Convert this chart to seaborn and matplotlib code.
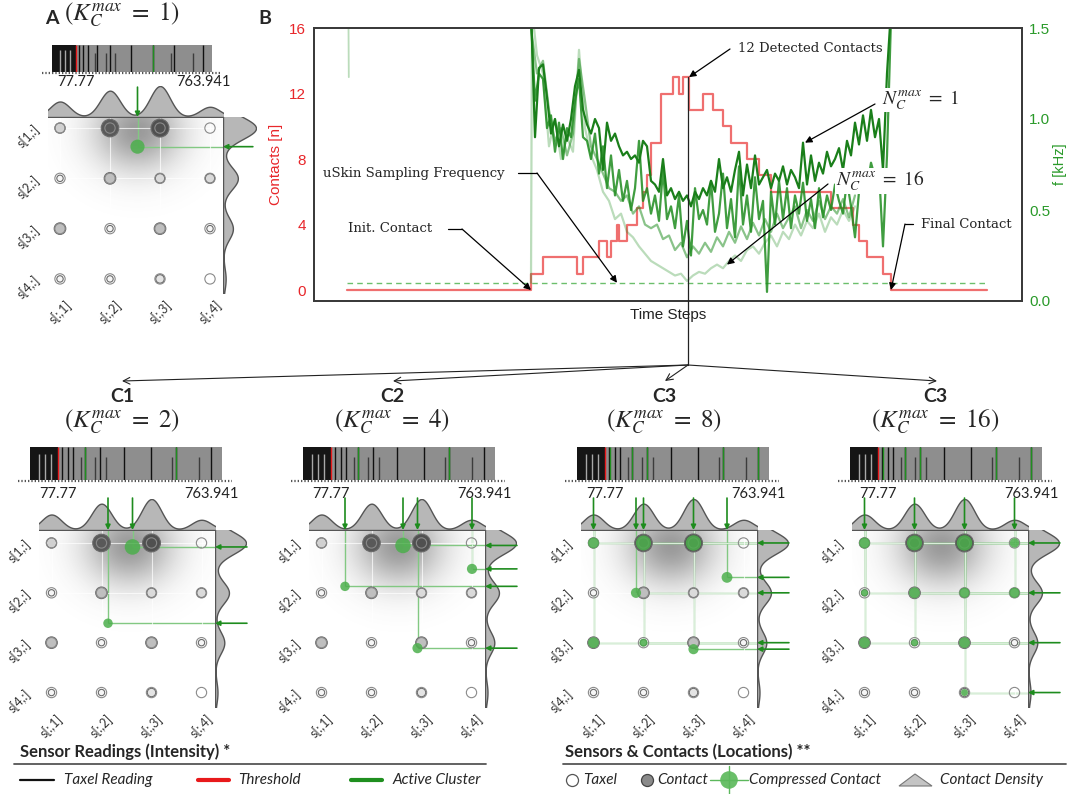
import numpy as np
import pandas as pd
import matplotlib
matplotlib.use("Agg")
import matplotlib.pyplot as plt
import seaborn as sns
from matplotlib.patches import Rectangle, Polygon

# ====================== DATA ======================
# Panel B: number of detected contacts (step changes over time steps)
contact_t = [0, 92, 98, 115, 118, 126, 130, 132, 135, 136, 140, 145, 148, 150, 152, 157, 163,
             166, 168, 171, 178, 183, 188, 192, 200, 206, 212, 242, 253, 256, 260, 268, 272, 320]
contact_n = [0, 1, 2, 1, 2, 3, 2, 3, 4, 3, 4, 5, 6, 7, 9, 12, 13,
             12, 13, 11, 12, 11, 10, 9, 8, 7, 6, 5, 4, 3, 2, 1, 0, 0]

# Panel B: processing frequency [kHz] for several N_C^max settings
freq_t_k1 = list(range(92, 273, 2))
freq_k1 = [1.60, 0.90, 1.28, 1.30, 1.12, 0.92, 1.00, 0.85, 0.97, 0.88,
           1.00, 1.18, 1.27, 1.05, 0.97, 0.92, 1.00, 0.95, 0.72, 0.98,
           0.88, 0.92, 0.85, 0.80, 0.82, 0.78, 0.80, 0.76, 0.88, 0.85,
           0.66, 0.64, 0.60, 0.78, 0.58, 0.62, 0.56, 0.60, 0.55, 0.58,
           0.52, 0.60, 0.56, 0.62, 0.58, 0.66, 0.60, 0.78, 0.62, 0.68,
           0.60, 0.72, 0.82, 0.58, 0.75, 0.62, 0.80, 0.64, 0.68, 0.72,
           0.62, 0.70, 0.66, 0.74, 0.64, 0.72, 0.68, 0.62, 0.87, 0.64,
           0.80, 0.66, 0.76, 0.70, 0.82, 0.74, 0.78, 0.84, 0.72, 0.88,
           0.80, 0.98, 0.86, 1.02, 0.88, 1.05, 0.90, 1.00, 0.72, 1.25,
           1.60]
freq_t_k4 = list(range(92, 273, 2))
freq_k4 = [1.55, 1.10, 1.25, 1.22, 0.95, 1.02, 0.82, 0.98, 0.78, 0.95,
           0.90, 1.10, 1.22, 0.90, 0.88, 0.78, 0.92, 0.70, 0.85, 0.62,
           0.80, 0.58, 0.72, 0.55, 0.66, 0.50, 0.62, 0.88, 0.55, 0.62,
           0.48, 0.58, 0.44, 0.72, 0.45, 0.52, 0.40, 0.58, 0.30, 0.44,
           0.25, 0.62, 0.45, 0.50, 0.42, 0.66, 0.38, 0.48, 0.70, 0.40,
           0.56, 0.35, 0.74, 0.42, 0.58, 0.38, 0.68, 0.45, 0.55, 0.05,
           0.60, 0.42, 0.66, 0.45, 0.62, 0.40, 0.58, 0.48, 0.65, 0.44,
           0.56, 0.40, 0.62, 0.46, 0.58, 0.50, 0.64, 0.55, 0.48, 0.66,
           0.52, 0.35, 0.60, 0.70, 0.62, 0.76, 0.68, 0.72, 0.30, 0.80,
           1.55]
freq_t_k8 = list(range(92, 255, 3))
freq_k8 = [1.50, 1.25, 1.32, 1.05, 0.88, 0.95, 0.80, 0.92, 1.33, 1.10,
           0.85, 0.78, 0.70, 0.62, 0.60, 0.55, 0.58, 0.48, 0.52, 0.42,
           0.40, 0.42, 0.34, 0.36, 0.28, 0.32, 0.24, 0.30, 0.26, 0.32,
           0.27, 0.35, 0.30, 0.38, 0.32, 0.41, 0.34, 0.43, 0.36, 0.45,
           0.38, 0.48, 0.40, 0.46, 0.52, 0.40, 0.50, 0.44, 0.55, 0.45,
           0.52, 0.48, 0.56, 0.46, 0.58]
freq_t_k16 = [92, 92.5] + list(range(95, 255, 3))
freq_k16 = [0.10, 1.60, 1.35, 1.25, 0.85, 1.00, 0.78, 0.90, 0.82, 1.38,
            0.95, 0.80, 0.72, 0.60, 0.55, 0.45, 0.48, 0.38, 0.35, 0.30,
            0.26, 0.22, 0.20, 0.18, 0.16, 0.14, 0.15, 0.11, 0.14, 0.16,
            0.15, 0.18, 0.20, 0.18, 0.22, 0.25, 0.22, 0.28, 0.30, 0.26,
            0.32, 0.36, 0.30, 0.38, 0.34, 0.42, 0.36, 0.44, 0.40, 0.48,
            0.38, 0.46, 0.42, 0.50, 0.44, 0.52]
freq_t_pre = [0.7, 0.9]
freq_pre = [1.60, 1.23]
sampling_t = [0, 320]
sampling_freq = [0.1, 0.1]

# Taxel grid (4x4) readings, shared by all panels
taxel_intensity = [[0.25, 0.90, 0.95, 0.00],
                   [0.05, 0.35, 0.20, 0.20],
                   [0.35, 0.05, 0.35, 0.05],
                   [0.05, 0.05, 0.15, 0.00]]
col_labels = ['s[:,1]', 's[:,2]', 's[:,3]', 's[:,4]']
row_labels = ['s[1,:]', 's[2,:]', 's[3,:]', 's[4,:]']
col_density = [0.50, 0.85, 1.00, 0.33]
row_density = [1.00, 0.45, 0.30, 0.08]

# Sensor reading strip
threshold = 77.77
max_reading = 763.941
readings_full = [95, 119, 143, 195, 265, 373, 492, 607, 763.941]
readings_partial = [180, 241, 290, 589, 707]
readings_below = [-9, 18, 45]

# Panels: titles, K_C^max, active clusters, compressed contacts
panel_titles = ['A', 'C1', 'C2', 'C3', 'C3']
panel_kmax = [1, 2, 4, 8, 16]
active_A = [492]
active_C1 = [195, 607]
active_C2 = [195, 607]
active_C3 = [97, 195, 265, 607, 763.941]
active_C4 = [97, 195, 265, 607, 763.941]
contact_col_A = [2.55]
contact_row_A = [1.37]
contact_w_A = [0.85]
contact_col_C1 = [2.62, 2.13]
contact_row_C1 = [1.08, 2.61]
contact_w_C1 = [1.00, 0.45]
contact_col_C2 = [2.63, 4.01, 1.47, 2.92]
contact_row_C2 = [1.05, 1.52, 1.87, 3.11]
contact_w_C2 = [1.00, 0.50, 0.45, 0.50]
contact_col_C3 = [1, 2, 3, 3.67, 1.85, 1, 2, 3]
contact_row_C3 = [1, 1, 1, 1.69, 2, 3, 3, 3.13]
contact_w_C3 = [0.55, 0.95, 1.00, 0.55, 0.50, 0.55, 0.35, 0.50]
contact_col_C4 = [1, 2, 3, 4, 1, 2, 3, 4, 1, 2, 3, 3]
contact_row_C4 = [1, 1, 1, 1, 2, 2, 2, 2, 3, 3, 3, 4]
contact_w_C4 = [0.55, 0.95, 1.00, 0.45, 0.30, 0.55, 0.50, 0.50, 0.55, 0.30, 0.55, 0.30]

# ====================== STYLE ======================
sns.set_theme(style="white")
plt.rcParams['font.family'] = ['Lato', 'DejaVu Sans']
plt.rcParams['mathtext.fontset'] = 'stix'
plt.rcParams['axes.unicode_minus'] = False

W, H = 1069, 794
fig = plt.figure(figsize=(W / 100, H / 100), dpi=100)
fig.patch.set_facecolor('white')

RED = '#ef6f6f'
GREEN = '#1e8c1e'
GLINE = '#82c882'
GDOT = '#4caf4c'
SERIF = ['DejaVu Serif']


def px_axes(x0, y0, x1, y1, **kw):
    return fig.add_axes([x0 / W, 1 - y1 / H, (x1 - x0) / W, (y1 - y0) / H], **kw)


# ====================== PANEL B ======================
axB = px_axes(314, 28, 1022, 301)
sns.lineplot(x=contact_t, y=contact_n, drawstyle='steps-post', color=RED, lw=1.6,
             ax=axB, estimator=None, legend=False)
axB.set_xlim(-16.5, 337.5)
axB.set_ylim(-0.67, 16)
axB.set_yticks([0, 4, 8, 12, 16])
axB.set_xticks([])
axB.tick_params(axis='y', length=0, labelsize=11, labelcolor='#e8262a', pad=6)
for lab in axB.get_yticklabels():
    lab.set_family('Liberation Sans')
axB.set_ylabel('Contacts [n]', color='#e8262a', fontsize=11, family='Liberation Sans', labelpad=4)
axB.set_xlabel('Time Steps', fontsize=11, family='Liberation Sans', labelpad=5, color='#222')

axF = axB.twinx()
sns.lineplot(x=sampling_t, y=sampling_freq, color='#6cbf6c', lw=1.0, linestyle=(0, (4, 3)),
             ax=axF, estimator=None, legend=False)
sns.lineplot(x=freq_t_pre, y=freq_pre, color=GREEN, alpha=0.3, lw=1.3, ax=axF, estimator=None, legend=False)
sns.lineplot(x=freq_t_k16, y=freq_k16, color=GREEN, alpha=0.3, lw=1.6, ax=axF, estimator=None, legend=False)
sns.lineplot(x=freq_t_k8, y=freq_k8, color=GREEN, alpha=0.52, lw=1.6, ax=axF, estimator=None, legend=False)
sns.lineplot(x=freq_t_k4, y=freq_k4, color=GREEN, alpha=0.85, lw=1.6, ax=axF, estimator=None, legend=False)
sns.lineplot(x=freq_t_k1, y=freq_k1, color='#1a7f1a', alpha=1.0, lw=1.6, ax=axF, estimator=None, legend=False)
axF.set_ylim(0, 1.5)
axF.set_xlim(-16.5, 337.5)
axF.set_yticks([0, 0.5, 1.0, 1.5], ['0.0', '0.5', '1.0', '1.5'])
axF.tick_params(axis='y', length=0, labelsize=11, labelcolor='#2a9a2a', pad=5)
for lab in axF.get_yticklabels():
    lab.set_family('Liberation Sans')
axF.set_ylabel('f [kHz]', color='#2a9a2a', fontsize=10.5, family='Liberation Sans', labelpad=2)
for ax in (axB, axF):
    for s in ax.spines.values():
        s.set_color('#3a3a3a')
        s.set_linewidth(1.3)
        s.set_visible(True)

# ====================== GRID PANELS ======================
grey_cmap = sns.blend_palette(['#ffffff', '#474747'], as_cmap=True)
tdf = pd.DataFrame([(c + 1, r + 1, taxel_intensity[r][c]) for r in range(4) for c in range(4)],
                   columns=['col', 'row', 'I'])

base_A = dict(strip=(52, 45, 212, 72), top=(48, 86, 223, 117), grid=(48, 117, 223, 293),
              right=(223, 117, 256, 293), xlim=(0.76, 4.26), ylim=(4.28, 0.78), arr=21.5, lpad=2)
base_C = dict(strip=(30, 447, 222, 480), top=(39, 499, 215, 530), grid=(39, 530, 215, 707),
              right=(215, 530, 246, 707), xlim=(0.75, 4.27), ylim=(4.29, 0.74), arr=23, lpad=5)

panels = [
    (base_A, 0, 0, active_A, contact_col_A, contact_row_A, contact_w_A),
    (base_C, 0, 0, active_C1, contact_col_C1, contact_row_C1, contact_w_C1),
    (base_C, 270, 273, active_C2, contact_col_C2, contact_row_C2, contact_w_C2),
    (base_C, 542, 547, active_C3, contact_col_C3, contact_row_C3, contact_w_C3),
    (base_C, 813, 820, active_C4, contact_col_C4, contact_row_C4, contact_w_C4),
]

grid_axes = []
for spec, dx, sdx, greens, ccol, crow, cw in panels:
    # --- reading strip ---
    x0, y0, x1, y1 = spec['strip']
    axs = px_axes(x0 + sdx, y0, x1 + sdx, y1)
    axs.add_patch(Rectangle((-50, 0), threshold + 50, 1, facecolor='#151515', lw=0, zorder=0.5))
    axs.add_patch(Rectangle((threshold, 0), 812 - threshold, 1, facecolor='#8e8e8e', lw=0, zorder=0.5))
    sns.rugplot(x=readings_below, height=0.8, color='#a8a8a8', lw=1.2, ax=axs)
    sns.rugplot(x=readings_partial, height=0.7, color='#3c3c3c', lw=1.0, ax=axs)
    sns.rugplot(x=readings_full, height=1.0, color='#101010', lw=1.4, ax=axs)
    sns.rugplot(x=greens, height=1.0, color='#1f8f1f', lw=1.6, ax=axs)
    sns.rugplot(x=[threshold], height=1.0, color='#e8191b', lw=1.6, ax=axs)
    axs.set_xlim(-50, 812)
    axs.set_ylim(0, 1)
    axs.set_yticks([])
    axs.set_xticks([threshold, max_reading], ['77.77', '763.941'])
    axs.tick_params(axis='x', length=0, labelsize=10.5, pad=spec['lpad'], labelcolor='#222')
    for s in axs.spines.values():
        s.set_visible(False)
    axs.plot([-0.06, 1.05], [-0.04, -0.04], transform=axs.transAxes, color='#555',
             lw=1.6, ls=(0, (0.6, 0.9)), clip_on=False)

    # --- grid ---
    gx0, gy0, gx1, gy1 = spec['grid']
    xlim, ylim = spec['xlim'], spec['ylim']
    axg = px_axes(gx0 + dx, gy0, gx1 + dx, gy1)
    axg.patch.set_alpha(0)
    xs = np.linspace(xlim[0], xlim[1], 240)
    ys = np.linspace(ylim[1], ylim[0], 240)
    X, Y = np.meshgrid(xs, ys)
    img = np.zeros((240, 240, 4))
    img[..., :3] = 0.32
    img[..., 3] = 0.58 * np.exp(-(((X - 2.55) / 0.62) ** 2 + ((Y - 1.05) / 0.55) ** 2) / 2)
    axg.imshow(img, extent=(xlim[0], xlim[1], ylim[0], ylim[1]), origin='upper',
               aspect='auto', zorder=0, interpolation='bilinear')
    axg.set_axisbelow(False)
    axg.grid(True, color='white', lw=0.8, alpha=0.7, zorder=1)

    # green guide lines
    for c, r in zip(ccol, crow):
        axg.plot([c, c], [r, ylim[1]], color=GLINE, lw=1.0, zorder=2.5, solid_capstyle='butt')
        axg.plot([c, xlim[1]], [r, r], color=GLINE, lw=1.0, zorder=2.5, solid_capstyle='butt')

    sns.scatterplot(data=tdf[tdf.I > 0], x='col', y='row', hue='I', size='I', palette=grey_cmap,
                    hue_norm=(0, 1), sizes=(13, 175), size_norm=(0, 1), edgecolor='#6a6a6a',
                    linewidth=0.8, legend=False, ax=axg, zorder=3)
    sns.scatterplot(data=tdf, x='col', y='row', s=55, facecolor='none', edgecolor='#8a8a8a',
                    linewidth=0.8, legend=False, ax=axg, zorder=4)
    sns.scatterplot(x=ccol, y=crow, size=cw, sizes=(25, 125), size_norm=(0.3, 1.0), color=GDOT,
                    alpha=0.85, edgecolor='none', legend=False, ax=axg, zorder=5)
    axg.set_xlim(*xlim)
    axg.set_ylim(*ylim)
    axg.set_xticks([1, 2, 3, 4], col_labels)
    axg.set_yticks([1, 2, 3, 4], row_labels)
    axg.tick_params(axis='both', length=2, width=0.6, color='#999', labelsize=9,
                    labelcolor='#333', pad=2)
    for lab in axg.get_xticklabels():
        lab.set_rotation(45)
    for lab in axg.get_yticklabels():
        lab.set_rotation(45)
    axg.set_xlabel('')
    axg.set_ylabel('')
    for s in axg.spines.values():
        s.set_visible(False)

    # --- top density ---
    tx0, ty0, tx1, ty1 = spec['top']
    axt = px_axes(tx0 + dx, ty0, tx1 + dx, ty1)
    axt.patch.set_alpha(0)
    sns.kdeplot(x=[1, 2, 3, 4], weights=col_density, bw_method=0.18, fill=True, color='#555555',
                alpha=0.42, linewidth=1.0, cut=5, ax=axt)
    axt.margins(x=0, y=0)
    axt.autoscale_view()
    axt.set_xlim(*xlim)
    axt.set_ylim(0, axt.get_ylim()[1])
    axt.axis('off')

    # --- right density ---
    rx0, ry0, rx1, ry1 = spec['right']
    axr = px_axes(rx0 + dx, ry0, rx1 + dx, ry1)
    axr.patch.set_alpha(0)
    sns.kdeplot(y=[1, 2, 3, 4], weights=row_density, bw_method=0.19, fill=True, color='#555555',
                alpha=0.42, linewidth=1.0, cut=5, ax=axr)
    axr.margins(x=0, y=0)
    axr.autoscale_view()
    axr.set_ylim(*ylim)
    axr.set_xlim(0, axr.get_xlim()[1])
    axr.axis('off')

    grid_axes.append((axg, spec, ccol, crow))

# ====================== OVERLAY (annotations, legend) ======================
ax_o = fig.add_axes([0, 0, 1, 1])
ax_o.set_xlim(0, W)
ax_o.set_ylim(H, 0)
ax_o.axis('off')
ax_o.patch.set_alpha(0)

# green arrows for compressed contacts
for axg, spec, ccol, crow in grid_axes:
    xlim, ylim = spec['xlim'], spec['ylim']
    for c in sorted(set(round(v, 2) for v in ccol)):
        ax_o.annotate('', xy=(c, ylim[1]), xycoords=axg.transData, xytext=(0, spec['arr']),
                      textcoords='offset points',
                      arrowprops=dict(arrowstyle='-|>', color=GREEN, lw=1.2, mutation_scale=7,
                                      shrinkA=0, shrinkB=0))
    for r in sorted(set(round(v, 2) for v in crow)):
        ax_o.annotate('', xy=(xlim[1], r), xycoords=axg.transData, xytext=(spec['arr'], 0),
                      textcoords='offset points',
                      arrowprops=dict(arrowstyle='-|>', color=GREEN, lw=1.2, mutation_scale=7,
                                      shrinkA=0, shrinkB=0))

# panel titles
ax_o.text(45, 18, 'A', fontsize=14, fontweight='bold', va='center', ha='left')
ax_o.text(64, 15, r'$(K_C^{max}\ =\ 1)$', fontsize=18, va='center', ha='left')
ax_o.text(258, 18, 'B', fontsize=14, fontweight='bold', va='center', ha='left')
for i, dx in enumerate([0, 270, 542, 813]):
    ax_o.text(122 + dx, 397, panel_titles[i + 1], fontsize=14, fontweight='bold', va='center', ha='center')
    ax_o.text(122 + dx, 422, r'$(K_C^{max}\ =\ %d)$' % panel_kmax[i + 1], fontsize=18,
              va='center', ha='center')

# B annotations
ap = dict(arrowstyle='-|>', color='black', lw=0.9, mutation_scale=10, shrinkA=0, shrinkB=0)
tb = dict(facecolor='white', edgecolor='none', pad=0.5)
ax_o.text(738, 48, '12 Detected Contacts', fontsize=9.5, family=SERIF, va='center', ha='left', bbox=tb)
ax_o.annotate('', xy=(171, 13), xycoords=axB.transData, xytext=(730, 49), textcoords='data', arrowprops=ap)
ax_o.text(882, 100, r'$N_C^{max}\ =\ 1$', fontsize=14, va='center', ha='left', bbox=tb)
ax_o.annotate('', xy=(229, 0.87), xycoords=axF.transData, xytext=(875, 104), textcoords='data', arrowprops=ap)
ax_o.text(836, 181, r'$N_C^{max}\ =\ 16$', fontsize=14, va='center', ha='left', bbox=tb)
ax_o.annotate('', xy=(190, 0.2), xycoords=axF.transData, xytext=(828, 184), textcoords='data', arrowprops=ap)
ax_o.text(323, 173, 'uSkin Sampling Frequency', fontsize=9.5, family=SERIF, va='center', ha='left', bbox=tb)
ax_o.plot([518, 537], [173, 173], color='black', lw=0.9)
ax_o.annotate('', xy=(135, 0.1), xycoords=axF.transData, xytext=(537, 173), textcoords='data', arrowprops=ap)
ax_o.text(348, 229, 'Init. Contact', fontsize=9.5, family=SERIF, va='center', ha='left', bbox=tb)
ax_o.plot([448, 462], [229, 229], color='black', lw=0.9)
ax_o.annotate('', xy=(92, 0), xycoords=axB.transData, xytext=(462, 229), textcoords='data', arrowprops=ap)
ax_o.text(921, 224, 'Final Contact', fontsize=9.5, family=SERIF, va='center', ha='left', bbox=tb)
ax_o.plot([913, 905], [224, 224], color='black', lw=0.9)
ax_o.annotate('', xy=(272, 0), xycoords=axB.transData, xytext=(905, 224), textcoords='data', arrowprops=ap)

# connector from peak to C panels
ax_o.plot([688, 688], [77, 365], color='#222', lw=0.9)
for tx in [122, 393, 665, 937]:
    ax_o.annotate('', xy=(tx, 381), xytext=(688, 365), textcoords='data',
                  arrowprops=dict(arrowstyle='->', color='#222', lw=0.8, mutation_scale=12,
                                  shrinkA=0, shrinkB=0))

# ---- bottom legends ----
ax_o.text(20, 752, 'Sensor Readings (Intensity) *', fontsize=12, fontweight='bold', va='center', ha='left')
ax_o.plot([14, 486], [764, 764], color='#555', lw=1.3)
ax_o.plot([20, 54], [780, 780], color='#111', lw=1.6)
ax_o.text(64, 780, 'Taxel Reading', fontsize=11, style='italic', va='center', ha='left')
ax_o.plot([198, 229], [780, 780], color='#e8191b', lw=3)
ax_o.text(238, 780, 'Threshold', fontsize=11, style='italic', va='center', ha='left')
ax_o.plot([351, 382], [780, 780], color='#1f8f1f', lw=3)
ax_o.text(393, 780, 'Active Cluster', fontsize=11, style='italic', va='center', ha='left')

ax_o.text(565, 752, 'Sensors & Contacts (Locations) **', fontsize=12, fontweight='bold', va='center', ha='left')
ax_o.plot([563, 1066], [764, 764], color='#555', lw=1.3)
ax_o.scatter([572], [780], s=75, facecolor='white', edgecolor='#555', lw=0.9)
ax_o.text(583, 780, 'Taxel', fontsize=11, style='italic', va='center', ha='left')
ax_o.scatter([647], [780], s=75, facecolor='#8a8a8a', edgecolor='#444', lw=0.9)
ax_o.text(657, 780, 'Contact', fontsize=11, style='italic', va='center', ha='left')
ax_o.plot([710, 748], [780, 780], color='#5cb85c', lw=1.0)
ax_o.plot([729, 729], [766, 794], color='#5cb85c', lw=1.0)
ax_o.scatter([729], [780], s=160, facecolor='#6abf69', edgecolor='none')
ax_o.text(749, 780, 'Compressed Contact', fontsize=11, style='italic', va='center', ha='left')
ax_o.add_patch(Polygon([(899, 786), (915, 774), (932, 786)], closed=True, facecolor='#c4c4c4',
                       edgecolor='#777', lw=0.8))
ax_o.text(940, 780, 'Contact Density', fontsize=11, style='italic', va='center', ha='left')

fig.savefig('out.png', dpi=100, facecolor='white')
